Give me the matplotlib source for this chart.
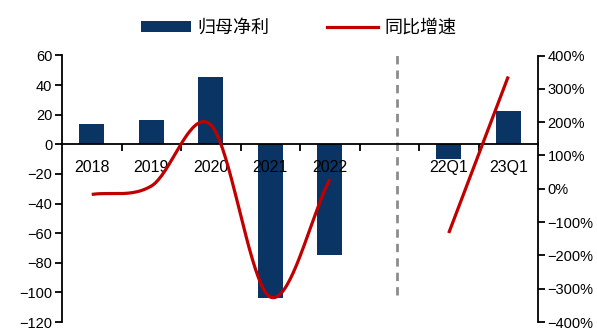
import numpy as np
import matplotlib
matplotlib.use('Agg')
import matplotlib.pyplot as plt
from matplotlib.lines import Line2D
from matplotlib.patches import Patch
from matplotlib.ticker import FuncFormatter, MultipleLocator

plt.rcParams['font.family'] = ['Liberation Sans', 'Noto Sans CJK SC', 'DejaVu Sans']
plt.rcParams['axes.unicode_minus'] = True

# ---- data ----
categories = ['2018', '2019', '2020', '2021', '2022', '', '22Q1', '23Q1']
profit = [14.0, 16.7, 45.6, -103.5, -74.6, np.nan, -9.7, 22.4]      # 归母净利
annual_growth = [-17, 8, 192, -325, 28]                               # 同比增速 (%) 2018-2022
quarter_growth = [-133, 337]                                          # 同比增速 (%) 22Q1, 23Q1
legend_labels = ['归母净利', '同比增速']

BAR_COLOR = '#093464'
LINE_COLOR = '#c00000'


def catmull_rom(x, y, n=40):
    x = np.asarray(x, float)
    y = np.asarray(y, float)
    if len(x) < 3:
        return x, y
    px = np.concatenate([[2 * x[0] - x[1]], x, [2 * x[-1] - x[-2]]])
    py = np.concatenate([[2 * y[0] - y[1]], y, [2 * y[-1] - y[-2]]])
    xs, ys = [], []
    for i in range(1, len(px) - 2):
        p0, p1, p2, p3 = py[i - 1], py[i], py[i + 1], py[i + 2]
        q0, q1, q2, q3 = px[i - 1], px[i], px[i + 1], px[i + 2]
        t = np.linspace(0, 1, n, endpoint=(i == len(px) - 3))
        m1y, m2y = (p2 - p0) / 2, (p3 - p1) / 2
        m1x, m2x = (q2 - q0) / 2, (q3 - q1) / 2
        h00 = 2 * t**3 - 3 * t**2 + 1
        h10 = t**3 - 2 * t**2 + t
        h01 = -2 * t**3 + 3 * t**2
        h11 = t**3 - t**2
        xs.append(h00 * q1 + h10 * m1x + h01 * q2 + h11 * m2x)
        ys.append(h00 * p1 + h10 * m1y + h01 * p2 + h11 * m2y)
    return np.concatenate(xs), np.concatenate(ys)


fig = plt.figure(figsize=(5.97, 3.31), dpi=100)
ax = fig.add_axes([62 / 597, 1 - 322 / 331, (538 - 62) / 597, (322 - 55.5) / 331])
ax2 = ax.twinx()

x = np.arange(len(categories))
ax.bar(x, profit, width=0.42, color=BAR_COLOR, zorder=1)

ax.set_xlim(-0.5, len(categories) - 0.5)
ax.set_ylim(-120, 60)
ax.yaxis.set_major_locator(MultipleLocator(20))
ax.yaxis.set_major_formatter(FuncFormatter(lambda v, p: f'{int(v)}'.replace('-', '\u2212')))

# zero axis line with category labels
ax.spines['bottom'].set_position(('data', 0))
ax.spines['top'].set_visible(False)
ax.spines['right'].set_visible(False)
for s in ['left', 'bottom']:
    ax.spines[s].set_linewidth(1.3)
    ax.spines[s].set_color('black')
ax.set_xticks(x)
ax.set_xticklabels(categories, fontsize=11.5)
ax.tick_params(axis='x', which='major', length=0, pad=11)
ax.set_xticks(x[:-1] + 0.5, minor=True)
ax.tick_params(axis='x', which='minor', length=5, width=1.3, direction='out')
ax.tick_params(axis='y', length=5, width=1.3, direction='out', labelsize=10.5, pad=2)

# separator
ax.plot([5.13, 5.13], [-102, 60], color='#8c8c8c', lw=2, ls=(0, (3, 2.2)), zorder=0.5)

# growth lines
ax2.set_ylim(-400, 400)
ax2.yaxis.set_major_locator(MultipleLocator(100))
ax2.yaxis.set_major_formatter(FuncFormatter(lambda v, p: f'{int(v)}%'.replace('-', '\u2212')))
for s in ['top', 'bottom', 'left']:
    ax2.spines[s].set_visible(False)
ax2.spines['right'].set_linewidth(1.3)
ax2.tick_params(axis='y', length=5, width=1.3, direction='out', labelsize=10.5, pad=2)

sx, sy = catmull_rom(x[:5], annual_growth)
ax2.plot(sx, sy, color=LINE_COLOR, lw=2.3, solid_capstyle='butt')
ax2.plot(x[6:8], quarter_growth, color=LINE_COLOR, lw=2.3, solid_capstyle='butt')

handles = [Patch(facecolor=BAR_COLOR, edgecolor='none'),
           Line2D([], [], color=LINE_COLOR, lw=2.3)]
fig.legend(handles, legend_labels, loc='center', bbox_to_anchor=(0.5, 0.915), ncol=2,
           frameon=False, fontsize=13, handlelength=2.8, handletextpad=0.35,
           columnspacing=3.2, handleheight=0.6)

fig.savefig('out.png', dpi=100)
